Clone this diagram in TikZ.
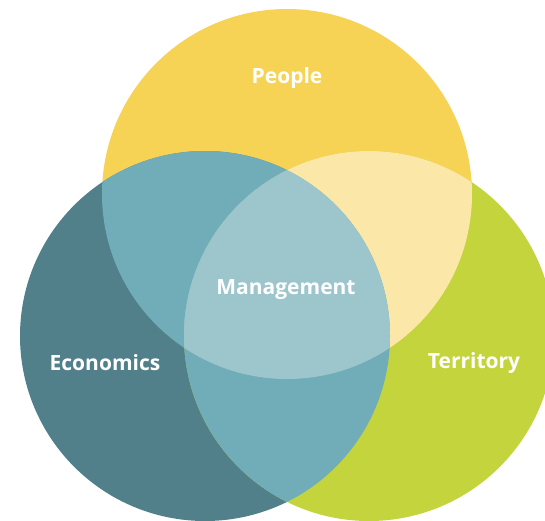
\documentclass[tikz,border=0pt]{standalone}
\usepackage{fontspec}
\setmainfont{Open Sans}
\usepackage{tikz}
\usetikzlibrary{positioning,calc}
\usepackage{xcolor}

\definecolor{peopleyellow}{HTML}{F7D355}
\definecolor{econteal}{HTML}{51808B}
\definecolor{terrlime}{HTML}{C3D43C}
\definecolor{midteal}{HTML}{70ADB8}
\definecolor{paleyellow}{HTML}{FBE7A8}
\definecolor{mgmtblue}{HTML}{9CC6CC}

\begin{document}
\begin{tikzpicture}[x=1pt,y=-1pt,
    venn/.style={radius=185pt},
    setlabel/.style={text=white,font=\bfseries\fontsize{21}{25}\selectfont}]
    \useasboundingbox (0,0) rectangle (545,520);
    \clip (0,0) rectangle (545,520);

    % centres of the three sets
    \coordinate (people) at (287,194);
    \coordinate (econ) at (205,336);
    \coordinate (terr) at (369,336);

    % single sets
    \fill[peopleyellow,venn] (people) circle;
    \fill[econteal,venn] (econ) circle;
    \fill[terrlime,venn] (terr) circle;

    % overlaps of two
    \begin{scope}
        \clip[venn] (people) circle;
        \fill[midteal,venn] (econ) circle;
        \fill[paleyellow,venn] (terr) circle;
    \end{scope}
    \begin{scope}
        \clip[venn] (econ) circle;
        \fill[midteal,venn] (terr) circle;
    \end{scope}

    % overlap of all three
    \begin{scope}
        \clip[venn] (people) circle;
        \clip[venn] (econ) circle;
        \fill[mgmtblue,venn] (terr) circle;
    \end{scope}

    % labels
    \node[setlabel] (peoplelbl) at (287,78) {People};
    \node[setlabel] (mgmtlbl) at (286,290) {Management};
    \node[setlabel] (econlbl) at (105,363) {Economics};
    \node[setlabel] (terrlbl) at (474,363) {Territory};
\end{tikzpicture}
\end{document}
